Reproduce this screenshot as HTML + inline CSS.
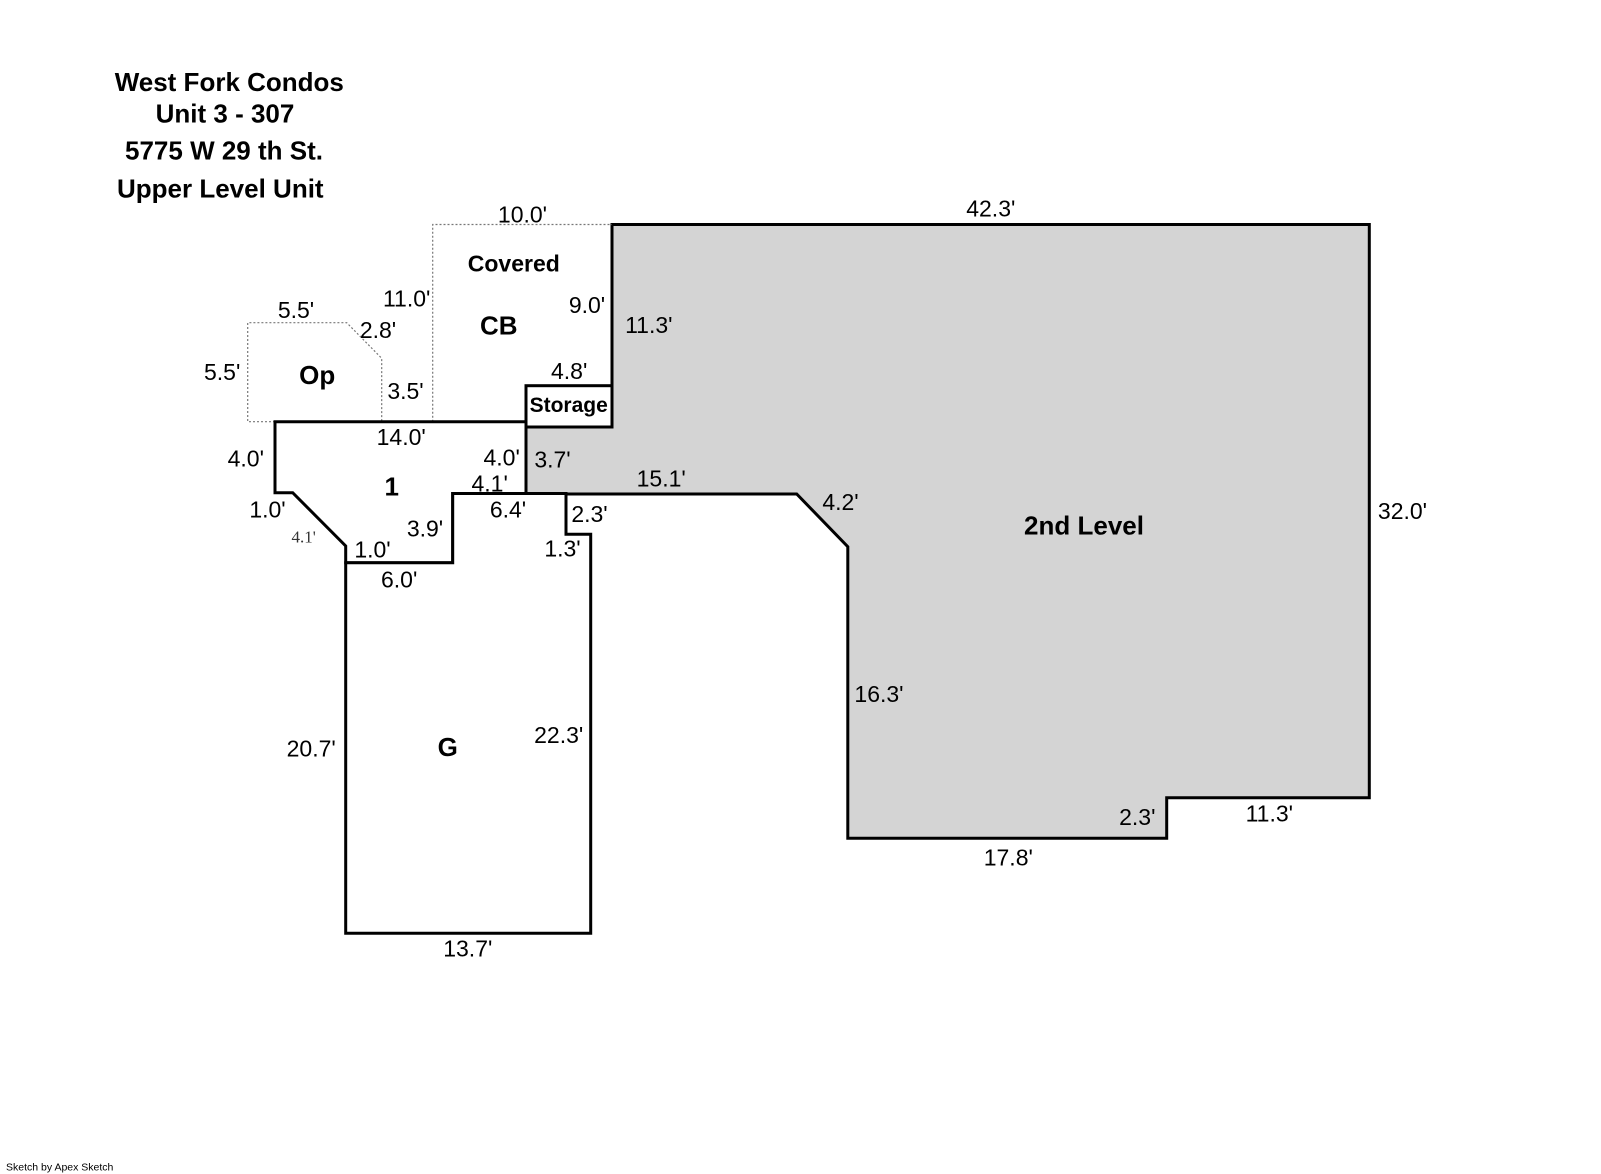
<!DOCTYPE html>
<html>
<head>
<meta charset="utf-8">
<style>
  html, body { margin:0; padding:0; background:#fff; }
  svg { display:block; }
  .d { font-family:"Liberation Sans", Arial, sans-serif; font-size:23px; fill:#000; text-anchor:middle; }
  .b { font-family:"Liberation Sans", Arial, sans-serif; font-weight:bold; fill:#000; text-anchor:middle; }
</style>
</head>
<body>
<svg width="1601" height="1174" viewBox="0 0 1601 1174" xmlns="http://www.w3.org/2000/svg">
  <rect x="0" y="0" width="1601" height="1174" fill="#fff"/>

  <!-- Title -->
  <text class="b" style="font-size:26px" x="229.3" y="91">West Fork Condos</text>
  <text class="b" style="font-size:26px" x="225" y="122.6">Unit 3 - 307</text>
  <text class="b" style="font-size:26px" x="224" y="159.3">5775 W 29 th St.</text>
  <text class="b" style="font-size:26px" x="220.3" y="197.6">Upper Level Unit</text>

  <!-- 2nd Level fill -->
  <polygon points="612,224.5 1369.3,224.5 1369.3,797.7 1166.7,797.7 1166.7,838.3 847.8,838.3 847.8,546.7 796.7,494 526,494 526,427 612,427"
           fill="#d4d4d4" stroke="#000" stroke-width="3" stroke-linejoin="miter"/>

  <!-- Dotted areas -->
  <g fill="none" stroke="#777" stroke-width="1.2" stroke-dasharray="2,2">
    <polyline points="432.7,421.7 432.7,224.5 612,224.5"/>
    <polyline points="275,421.7 247.7,421.7 247.7,322.7 346.7,322.7 381.7,358.3 381.7,421.7"/>
  </g>

  <!-- Storage -->
  <rect x="526" y="385.7" width="86" height="41.3" fill="#fff" stroke="#000" stroke-width="3"/>

  <!-- Room 1 -->
  <polygon points="275,421.7 526,421.7 526,493.5 452.7,493.5 452.7,562.7 345.7,562.7 345.7,546 292.7,492.7 275,492.7"
           fill="#fff" stroke="#000" stroke-width="3" stroke-linejoin="miter"/>

  <!-- G -->
  <polygon points="345.7,562.7 452.7,562.7 452.7,493.5 566,493.5 566,534.3 590.7,534.3 590.7,933.3 345.7,933.3"
           fill="#fff" stroke="#000" stroke-width="3" stroke-linejoin="miter"/>

  <!-- Room labels -->
  <text class="b" style="font-size:23px" x="513.8" y="271.5">Covered</text>
  <text class="b" style="font-size:26px" x="498.8" y="334.3">CB</text>
  <text class="b" style="font-size:26px" x="317.2" y="383.8">Op</text>
  <text class="b" style="font-size:26px" x="391.7" y="495.3">1</text>
  <text class="b" style="font-size:21px" x="568.7" y="412.2">Storage</text>
  <text class="b" style="font-size:26px" x="1084" y="534.3">2nd Level</text>
  <text class="b" style="font-size:26px" x="447.8" y="756">G</text>

  <!-- Dimension labels -->
  <text class="d" x="522.5" y="222.5">10.0'</text>
  <text class="d" x="990.8" y="216.5">42.3'</text>
  <text class="d" x="406.7" y="306.5">11.0'</text>
  <text class="d" x="296" y="318.2">5.5'</text>
  <text class="d" x="378" y="338.2">2.8'</text>
  <text class="d" x="222.2" y="379.9">5.5'</text>
  <text class="d" x="405.5" y="398.9">3.5'</text>
  <text class="d" x="587" y="313.2">9.0'</text>
  <text class="d" x="648.8" y="333.2">11.3'</text>
  <text class="d" x="569.2" y="378.9">4.8'</text>
  <text class="d" x="401.2" y="444.9">14.0'</text>
  <text class="d" x="245.8" y="466.5">4.0'</text>
  <text class="d" x="501.7" y="465.5">4.0'</text>
  <text class="d" x="552.5" y="467.5">3.7'</text>
  <text class="d" x="489.7" y="491.5">4.1'</text>
  <text class="d" x="661.2" y="486.5">15.1'</text>
  <text class="d" x="267.5" y="517.5">1.0'</text>
  <text class="d" x="508" y="517.5">6.4'</text>
  <text class="d" x="589.5" y="522.2">2.3'</text>
  <text class="d" x="840.5" y="509.9">4.2'</text>
  <text class="d" x="1402.5" y="518.9">32.0'</text>
  <text x="303.7" y="542.3" style="font-family:'Liberation Serif', 'Times New Roman', serif; font-size:17px; fill:#333; text-anchor:middle;">4.1'</text>
  <text class="d" x="425" y="536.5">3.9'</text>
  <text class="d" x="372.5" y="557.5">1.0'</text>
  <text class="d" x="562.5" y="556.5">1.3'</text>
  <text class="d" x="399.2" y="587.5">6.0'</text>
  <text class="d" x="879" y="702.2">16.3'</text>
  <text class="d" x="558.7" y="743.2">22.3'</text>
  <text class="d" x="311.2" y="756.5">20.7'</text>
  <text class="d" x="1137.3" y="824.9">2.3'</text>
  <text class="d" x="1269.3" y="821.5">11.3'</text>
  <text class="d" x="1008.3" y="865.7">17.8'</text>
  <text class="d" x="467.8" y="956.5">13.7'</text>

  <!-- Footer -->
  <text x="6" y="1170.5" style="font-family:'Liberation Sans', Arial, sans-serif; font-size:10.5px; fill:#000;">Sketch by Apex Sketch</text>
</svg>
</body>
</html>
